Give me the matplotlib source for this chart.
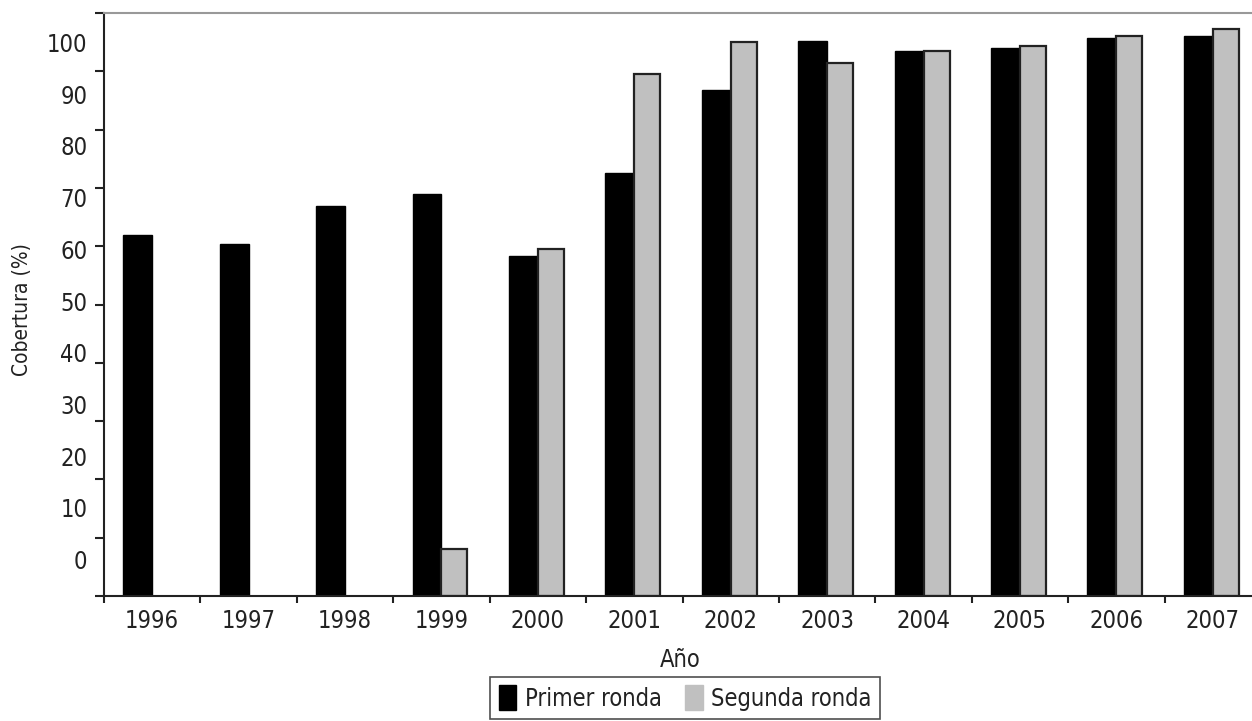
import matplotlib
matplotlib.use("Agg")
import matplotlib.pyplot as plt
import numpy as np
from matplotlib.ticker import FixedLocator, NullFormatter, FixedFormatter
from matplotlib.patches import Patch

years = ["1996", "1997", "1998", "1999", "2000", "2001", "2002", "2003", "2004", "2005", "2006", "2007"]
primer = [61.9, 60.4, 66.9, 69.0, 58.3, 72.6, 86.8, 95.2, 93.5, 94.0, 95.7, 96.1]
segunda = [np.nan, np.nan, np.nan, 8.1, 59.5, 89.5, 95.0, 91.4, 93.5, 94.3, 96.1, 97.3]
ytick_labels = ["0", "10", "20", "30", "40", "50", "60", "70", "80", "90", "100"]
ytick_label_pos = [6.2, 15.1, 23.9, 32.8, 41.7, 50.6, 59.4, 68.3, 77.2, 86.0, 94.9]

plt.rcParams['font.family'] = ['DejaVu Sans']
plt.rcParams['font.stretch'] = 'condensed'
txt = '#222222'

fig = plt.figure(figsize=(12.52, 7.21), dpi=100)
ax = fig.add_axes([104/1252, 1-596/721, (1261-104)/1252, (596-13)/721])

x = np.arange(len(years))
ax.bar(x - 0.30, primer, width=0.30, align='edge', color='black', edgecolor='black', linewidth=1.0)
ax.bar(x + 0.0, segunda, width=0.27, align='edge', color='#c0c0c0', edgecolor='#222222', linewidth=1.6)

ax.set_xlim(-0.5, len(years) - 0.5)
ax.set_ylim(0, 100)

ax.xaxis.set_major_locator(FixedLocator(np.arange(-0.5, len(years), 1.0)))
ax.xaxis.set_major_formatter(NullFormatter())
ax.xaxis.set_minor_locator(FixedLocator(x))
ax.xaxis.set_minor_formatter(FixedFormatter(years))
ax.tick_params(axis='x', which='major', direction='out', length=5, width=1.5, color='#222222')
ax.tick_params(axis='x', which='minor', length=0, pad=9, labelsize=17, labelcolor=txt)

ax.yaxis.set_major_locator(FixedLocator(np.arange(0, 101, 10)))
ax.yaxis.set_major_formatter(NullFormatter())
ax.yaxis.set_minor_locator(FixedLocator(ytick_label_pos))
ax.yaxis.set_minor_formatter(FixedFormatter(ytick_labels))
ax.tick_params(axis='y', which='major', direction='out', length=6.5, width=1.5, color='#222222')
ax.tick_params(axis='y', which='minor', length=0, pad=12, labelsize=17, labelcolor=txt)

for s in ['left', 'bottom']:
    ax.spines[s].set_color('#222222')
    ax.spines[s].set_linewidth(1.5)
ax.spines['top'].set_color('#999999')
ax.spines['top'].set_linewidth(1.5)
ax.spines['right'].set_visible(False)

fig.text(22/1252, 1-310/721, "Cobertura (%)", rotation=90, ha='center', va='center', fontsize=15, color=txt)
fig.text(680/1252, 1-660/721, "Año", ha='center', va='center', fontsize=17, color=txt)

handles = [Patch(facecolor='black', edgecolor='black', label='Primer ronda'),
           Patch(facecolor='#c0c0c0', edgecolor='#c0c0c0', label='Segunda ronda')]
leg = fig.legend(handles=handles, loc='center', bbox_to_anchor=(685/1252, 1-698/721), ncol=2,
                 fontsize=17, frameon=True, fancybox=False, edgecolor='#222222',
                 handlelength=0.75, handleheight=1.2, handletextpad=0.35, columnspacing=1.0,
                 borderpad=0.35, borderaxespad=0)
leg.get_frame().set_linewidth(1.2)
for t in leg.get_texts():
    t.set_color(txt)

fig.savefig("out.png", dpi=100, facecolor='white')
